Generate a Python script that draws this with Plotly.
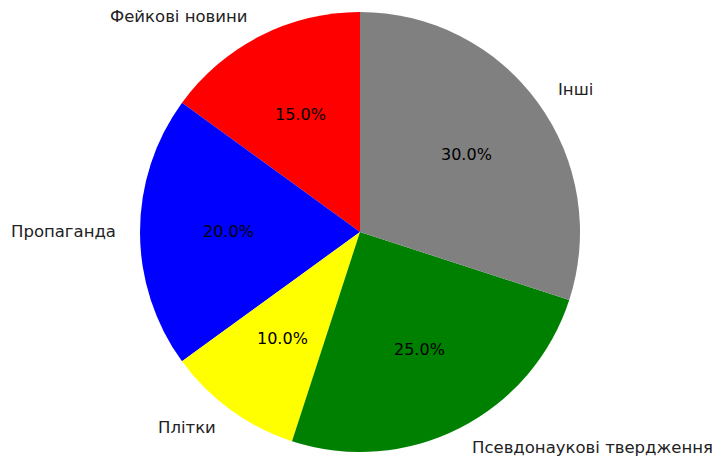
import numpy as np
import plotly.graph_objects as go

labels = ["Фейкові новини", "Пропаганда", "Плітки", "Псевдонаукові твердження", "Інші"]
values = [15, 20, 10, 25, 30]
colors = ["red", "blue", "yellow", "green", "gray"]

W, H = 712, 456
cx, cy, r = 360, 232, 220

vals = np.array(values, dtype=float)
frac = vals / vals.sum()

fig = go.Figure(go.Pie(
    labels=labels, values=values, sort=False, direction="counterclockwise",
    rotation=-360 * frac[0], marker=dict(colors=colors, line=dict(width=0)),
    textinfo="none", hoverinfo="label+percent", showlegend=False,
    domain=dict(x=[(cx - r) / W, (cx + r) / W], y=[1 - (cy + r) / H, 1 - (cy - r) / H]),
))

start = 90 + 360 * np.concatenate([[0], np.cumsum(frac)[:-1]])
mid = np.deg2rad(start + 180 * frac)

ann = []
for lab, f, th in zip(labels, frac, mid):
    lx = cx + 1.1 * r * np.cos(th)
    ly = cy - 1.1 * r * np.sin(th)
    ann.append(dict(x=lx / W, y=1 - ly / H, xref="paper", yref="paper", text=lab,
                    showarrow=False, xanchor="left" if np.cos(th) > 0 else "right",
                    yanchor="middle", font=dict(family="DejaVu Sans", size=16.5, color="#222")))
    px = cx + 0.6 * r * np.cos(th)
    py = cy - 0.6 * r * np.sin(th)
    ann.append(dict(x=px / W, y=1 - py / H, xref="paper", yref="paper", text=f"{f*100:.1f}%",
                    showarrow=False, xanchor="center", yanchor="middle",
                    font=dict(family="DejaVu Sans", size=16, color="black")))

fig.update_layout(width=W, height=H, margin=dict(l=0, r=0, t=0, b=0),
                  paper_bgcolor="white", plot_bgcolor="white", annotations=ann)
fig.write_html("out.html", config={"displayModeBar": False},
               post_script="document.body.style.margin='0';document.body.style.overflow='hidden';")
